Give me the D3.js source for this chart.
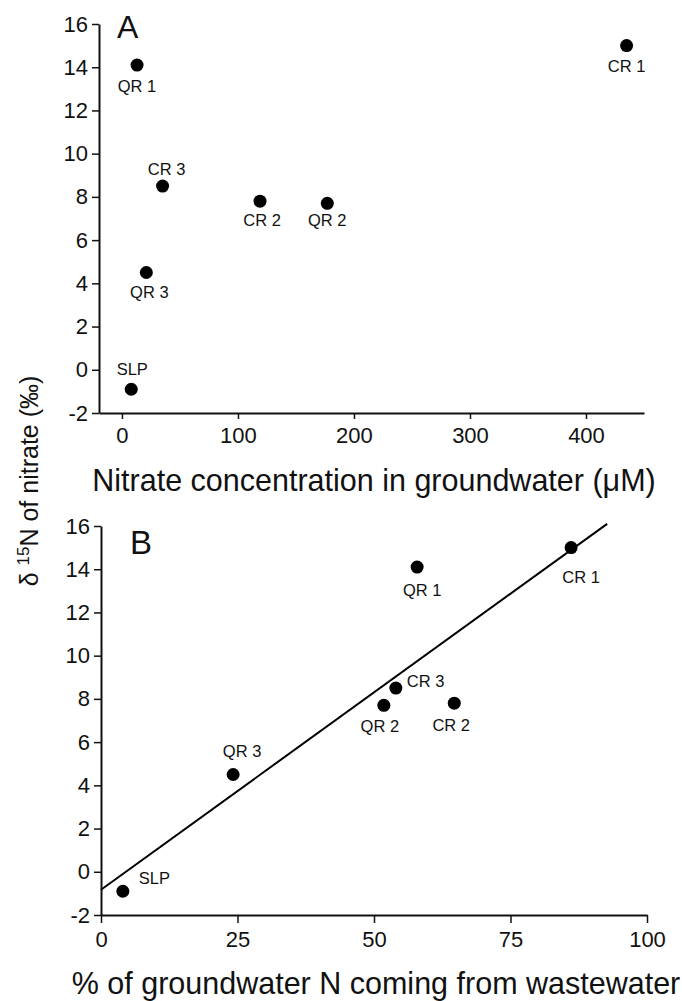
<!DOCTYPE html>
<html>
<head>
<meta charset="utf-8">
<script src="https://cdn.jsdelivr.net/npm/d3@7"></script>
<style>
  html, body { margin: 0; padding: 0; background: #fff; }
  svg { display: block; }
  text { font-family: "Liberation Sans", Arial, Helvetica, sans-serif; fill: #111; }
</style>
</head>
<body>
<svg id="chart" width="682" height="1001"></svg>
<script>
// ---- Data ----
const sites = ["QR 1", "CR 3", "CR 2", "QR 2", "CR 1", "QR 3", "SLP"];
const delta15N = [14.1, 8.5, 7.8, 7.7, 15.0, 4.5, -0.9];            // ‰
const nitrateConc = [13, 35, 119, 177, 435, 21, 8];                  // µM (panel A)
const wastewaterPct = [57.9, 54, 64.7, 51.8, 86.1, 24.2, 4.0];       // % (panel B)
const fitLineX = [0, 92.7];
const fitLineY = [-0.83, 16.1];
const yTicks = [-2, 0, 2, 4, 6, 8, 10, 12, 14, 16];
const xTicksA = [0, 100, 200, 300, 400];
const xTicksB = [0, 25, 50, 75, 100];

// label placement (offset from point, in px) and anchor
const labelPlaceA = [
  {dx: 0, dy: 27, a: "middle"}, {dx: 4, dy: -11, a: "middle"}, {dx: 2, dy: 25, a: "middle"},
  {dx: 0, dy: 23, a: "middle"}, {dx: 0, dy: 26, a: "middle"}, {dx: 3, dy: 25, a: "middle"},
  {dx: 1, dy: -14, a: "middle"}
];
const labelPlaceB = [
  {dx: 5, dy: 29, a: "middle"}, {dx: 11, dy: -1, a: "start"}, {dx: -3, dy: 28, a: "middle"},
  {dx: -4, dy: 27, a: "middle"}, {dx: 10, dy: 35, a: "middle"}, {dx: 9, dy: -18, a: "middle"},
  {dx: 16, dy: -7, a: "start"}
];

const svg = d3.select("#chart");

// ---- Scales ----
const xA = d3.scaleLinear().domain([-19.8, 450]).range([99, 644]);
const yA = d3.scaleLinear().domain([-2, 16]).range([413, 24]);
const xB = d3.scaleLinear().domain([0, 100]).range([101, 647]);
const yB = d3.scaleLinear().domain([-2, 16]).range([915, 526]);

const fmt = d => String(d);

function drawPanel(g, x, y, xVals, xTicks, place, xTickLen) {
  // y axis
  const yAxis = d3.axisLeft(y).tickValues(yTicks).tickFormat(fmt).tickSize(7).tickPadding(4).tickSizeOuter(0);
  const ya = g.append("g").attr("transform", `translate(${x.range()[0]},0)`).call(yAxis);
  ya.select(".domain").attr("stroke", "#111").attr("stroke-width", 2);
  ya.selectAll(".tick line").attr("stroke", "#111").attr("stroke-width", 1.5);
  ya.selectAll(".tick text").attr("font-size", 22).style("fill", "#111");

  // x axis
  const xAxis = d3.axisBottom(x).tickValues(xTicks).tickFormat(fmt).tickSize(xTickLen).tickPadding(8).tickSizeOuter(0);
  const xa = g.append("g").attr("transform", `translate(0,${y.range()[0]})`).call(xAxis);
  xa.select(".domain").attr("stroke", "#111").attr("stroke-width", 2);
  xa.selectAll(".tick line").attr("stroke", "#111").attr("stroke-width", 1.5);
  xa.selectAll(".tick text").attr("font-size", 22).style("fill", "#111");

  // points
  const data = sites.map((s, i) => ({s, x: xVals[i], y: delta15N[i], p: place[i]}));
  g.selectAll("circle.pt").data(data).enter().append("circle")
    .attr("class", "pt")
    .attr("cx", d => x(d.x)).attr("cy", d => y(d.y)).attr("r", 6.5)
    .attr("fill", "#000");
  g.selectAll("text.lbl").data(data).enter().append("text")
    .attr("class", "lbl")
    .attr("x", d => x(d.x) + d.p.dx).attr("y", d => y(d.y) + d.p.dy)
    .attr("text-anchor", d => d.p.a)
    .attr("font-size", 16.5)
    .text(d => d.s);
}

const gA = svg.append("g");
drawPanel(gA, xA, yA, nitrateConc, xTicksA, labelPlaceA, 6);
const gB = svg.append("g");
drawPanel(gB, xB, yB, wastewaterPct, xTicksB, labelPlaceB, 8);

// regression line in B
const fit = fitLineX.map((v, i) => [v, fitLineY[i]]);
gB.append("path")
  .datum(fit)
  .attr("d", d3.line().x(d => xB(d[0])).y(d => yB(d[1])))
  .attr("stroke", "#000").attr("stroke-width", 2).attr("fill", "none");

// panel letters
svg.append("text").attr("x", 117).attr("y", 38).attr("font-size", 32).text("A");
svg.append("text").attr("x", 130).attr("y", 554).attr("font-size", 33).text("B");

// axis titles
svg.append("text").attr("x", 374).attr("y", 491).attr("text-anchor", "middle")
  .attr("font-size", 30.5).text("Nitrate concentration in groundwater (\u03BCM)");
svg.append("text").attr("x", 376).attr("y", 994).attr("text-anchor", "middle")
  .attr("font-size", 30.5).text("% of groundwater N coming from wastewater");

const yt = svg.append("text")
  .attr("transform", "translate(38,481) rotate(-90)")
  .attr("text-anchor", "middle")
  .attr("font-size", 25);
yt.append("tspan").text("\u03B4 ");
yt.append("tspan").attr("font-size", 17).attr("dy", -9).text("15");
yt.append("tspan").attr("dy", 9).text("N of nitrate (\u2030)");
</script>
</body>
</html>
